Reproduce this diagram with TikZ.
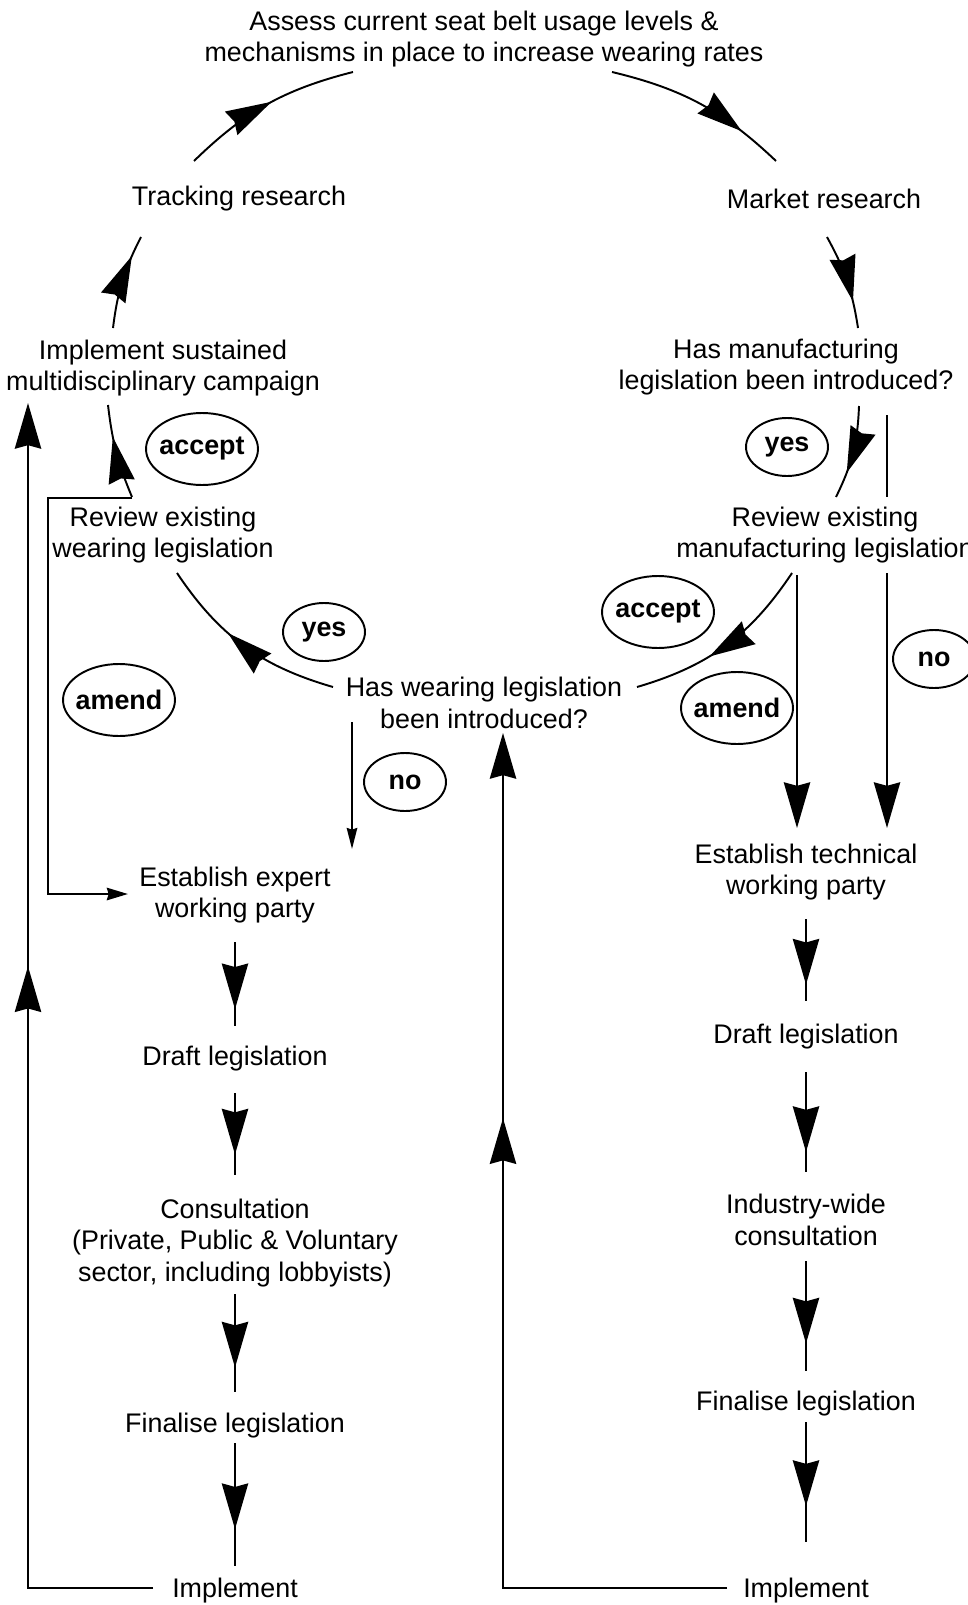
\documentclass[tikz,border=0pt]{standalone}
\usepackage{fontspec}
\setmainfont{Liberation Sans}
\usetikzlibrary{arrows.meta,decorations.markings,shapes.geometric}

\newcommand{\bubbletext}[1]{\makebox[0pt]{\bfseries #1}}

\tikzset{
  txt/.style={align=center, inner sep=0pt},
  conn/.style={line width=1.1pt},
  bigtip/.tip={Stealth[length=26pt,width=15pt,inset=2pt]},
  smalltip/.tip={Stealth[length=12pt,width=7pt,inset=1pt]},
  midarrow/.style={postaction={decorate},
    decoration={markings, mark=at position #1 with {\arrow{bigtip}}}},
  bubble/.style={draw, ellipse, line width=1.1pt, inner sep=0pt,
    minimum width=2.24cm, minimum height=1.44cm},
  smallbubble/.style={bubble, minimum width=1.64cm, minimum height=1.16cm}
}

\begin{document}
\begin{tikzpicture}[x=0.02cm, y=-0.02cm, font=\fontsize{15.3}{18.1}\selectfont]
\useasboundingbox (0,0) rectangle (967,1605);

% statements
\node[txt] (assess) at (484,39) {Assess current seat belt usage levels \&\\mechanisms in place to increase wearing rates};
\node[txt] (track) at (239,199) {Tracking research};
\node[txt] (market) at (824,199) {Market research};
\node[txt] (impsust) at (163,368) {Implement sustained\\multidisciplinary campaign};
\node[txt] (hasman) at (786,367) {Has manufacturing\\legislation been introduced?};
\node[txt] (revwear) at (163,535) {Review existing\\wearing legislation};
\node[txt] (revman) at (825,535) {Review existing\\manufacturing legislation};
\node[txt] (haswear) at (484,703) {Has wearing legislation\\been introduced?};
\node[txt] (estexp) at (235,895) {Establish expert\\working party};
\node[txt] (draftA) at (235,1059) {Draft legislation};
\node[txt] (consult) at (235,1243) {Consultation\\(Private, Public \& Voluntary\\sector, including lobbyists)};
\node[txt] (finalA) at (235,1426) {Finalise legislation};
\node[txt] (implA) at (235,1591) {Implement};
\node[txt] (esttech) at (806,872) {Establish technical\\working party};
\node[txt] (draftB) at (806,1037) {Draft legislation};
\node[txt] (industry) at (806,1220) {Industry-wide\\consultation};
\node[txt] (finalB) at (806,1404) {Finalise legislation};
\node[txt] (implB) at (806,1591) {Implement};

% answers
\node[bubble] (acceptA) at (202,449) {\bubbletext{accept}};
\node[smallbubble] (yesA) at (324,632) {\bubbletext{yes}};
\node[bubble] (amendA) at (119,700) {\bubbletext{amend}};
\node[smallbubble] (noA) at (405,782) {\bubbletext{no}};
\node[smallbubble] (yesB) at (787,447) {\bubbletext{yes}};
\node[bubble] (acceptB) at (658,612) {\bubbletext{accept}};
\node[bubble] (amendB) at (737,708) {\bubbletext{amend}};
\node[smallbubble] (noB) at (934,659) {\bubbletext{no}};

% outer cycle
\draw[conn, midarrow=0.53] ([shift={(-45,-38)}]track.center) to[bend left=15] ([shift={(-131,33)}]assess.center);
\draw[conn, midarrow=0.76] ([shift={(128,33)}]assess.center) to[bend left=15] ([shift={(-48,-38)}]market.center);
\draw[conn, midarrow=0.78] ([shift={(-50,-40)}]impsust.center) to[bend left=10] ([shift={(-98,38)}]track.center);
\draw[conn, midarrow=0.72] ([shift={(3,38)}]market.center) to[bend left=10] ([shift={(72,-39)}]hasman.center);

% yes / accept
\draw[conn, midarrow=0.72] ([shift={(73,39)}]hasman.center) to[bend left=12] ([shift={(11,-38)}]revman.center);
\draw[conn, midarrow=0.6] ([shift={(-33,38)}]revman.center) to[bend left=20] ([shift={(153,-16)}]haswear.center);
\draw[conn, midarrow=0.6] ([shift={(-151,-16)}]haswear.center) to[bend left=20] ([shift={(14,38)}]revwear.center);
\draw[conn, midarrow=0.66] ([shift={(-31,-38)}]revwear.center) to[bend left=8] ([shift={(-55,37)}]impsust.center);

% amend
\draw[conn, line width=1.6pt, -{smalltip}] ([shift={(-31,-37)}]revwear.center) -- ++(-84,0) |- ([shift={(-107,-1)}]estexp.center);
\draw[conn, -{bigtip}] ([shift={(-28,40)}]revman.center) -- ([shift={(-9,-44)}]esttech.center);

% no
\draw[conn, -{Stealth[length=12pt,width=6pt,inset=1pt]}] ([shift={(-132,19)}]haswear.center) -- ([shift={(117,-46)}]estexp.center);
\draw[conn] ([shift={(101,48)}]hasman.center) -- ([shift={(62,-38)}]revman.center);
\draw[conn, -{bigtip}] ([shift={(62,38)}]revman.center) -- ([shift={(81,-44)}]esttech.center);

% legislation steps
\foreach \a/\b/\s/\e/\p in {estexp/draftA/47/-33/0.8, draftA/consult/34/-68/0.75,
    consult/finalA/51/-34/0.75, finalA/implA/17/-25/0.7,
    esttech/draftB/47/-36/0.8, draftB/industry/35/-48/0.8,
    industry/finalB/41/-33/0.75, finalB/implB/18/-49/0.7}
  \draw[conn, midarrow=\p] ([shift={(0,\s)}]\a.center) -- ([shift={(0,\e)}]\b.center);

% back to the start
\draw[conn, -{bigtip}, midarrow=0.57] ([shift={(-82,-3)}]implA.center) -| ([shift={(-135,35)}]impsust.center);
\draw[conn, -{bigtip}, midarrow=0.643] ([shift={(-79,-3)}]implB.center) -| ([shift={(19,30)}]haswear.center);
\end{tikzpicture}
\end{document}
